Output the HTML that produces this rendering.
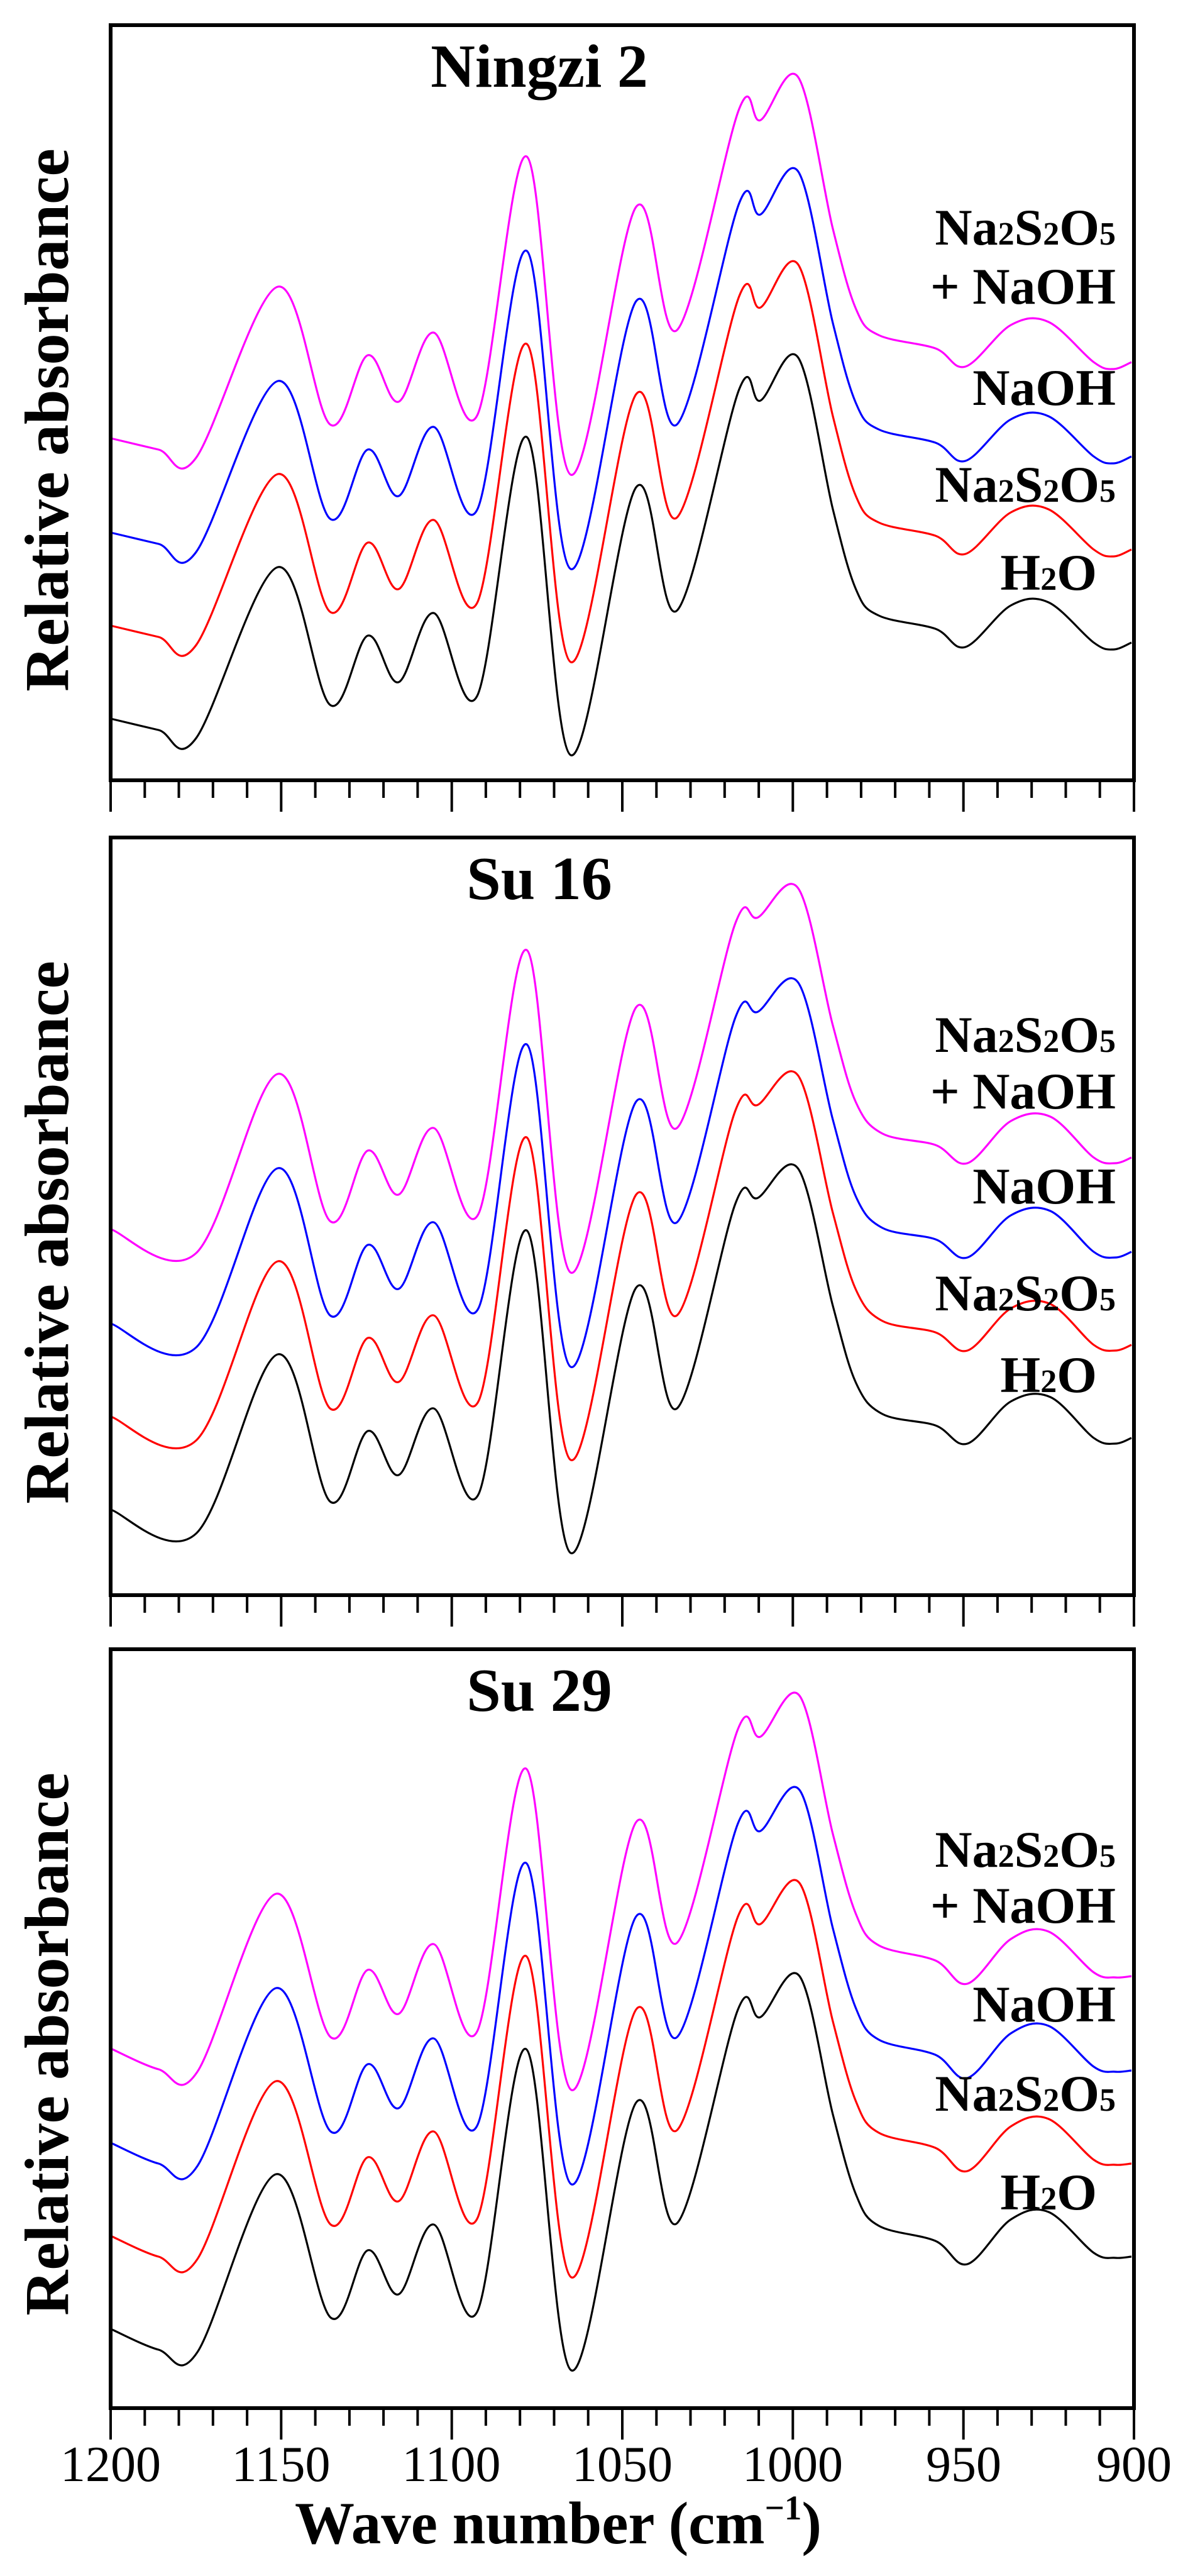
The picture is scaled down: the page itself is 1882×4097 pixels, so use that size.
<!DOCTYPE html>
<html><head><meta charset="utf-8"><style>
html,body{margin:0;padding:0;background:#fff;}
svg{display:block;}
text{font-family:"Liberation Serif",serif;}
</style></head><body>
<svg id="s" width="1882" height="4097" viewBox="0 0 1882 4097" xmlns="http://www.w3.org/2000/svg">
<g id="plots"></g>
<g font-weight="bold" fill="#000">
<text x="858" y="138" font-size="98" text-anchor="middle">Ningzi 2</text>
<text x="858" y="1430" font-size="98" text-anchor="middle">Su 16</text>
<text x="858" y="2721" font-size="98" text-anchor="middle">Su 29</text>
<text transform="translate(108,668) rotate(-90)" font-size="100" text-anchor="middle">Relative absorbance</text>
<text transform="translate(108,1960) rotate(-90)" font-size="100" text-anchor="middle">Relative absorbance</text>
<text transform="translate(108,3251) rotate(-90)" font-size="100" text-anchor="middle">Relative absorbance</text>
<g font-size="82" text-anchor="end">
<text x="1775" y="389">Na<tspan font-size="52">2</tspan>S<tspan font-size="52">2</tspan>O<tspan font-size="52">5</tspan></text>
<text x="1775" y="483">+ NaOH</text>
<text x="1775" y="644">NaOH</text>
<text x="1775" y="798">Na<tspan font-size="52">2</tspan>S<tspan font-size="52">2</tspan>O<tspan font-size="52">5</tspan></text>
<text x="1745" y="938">H<tspan font-size="52">2</tspan>O</text>

<text x="1775" y="1673">Na<tspan font-size="52">2</tspan>S<tspan font-size="52">2</tspan>O<tspan font-size="52">5</tspan></text>
<text x="1775" y="1763">+ NaOH</text>
<text x="1775" y="1914">NaOH</text>
<text x="1775" y="2084">Na<tspan font-size="52">2</tspan>S<tspan font-size="52">2</tspan>O<tspan font-size="52">5</tspan></text>
<text x="1745" y="2214">H<tspan font-size="52">2</tspan>O</text>

<text x="1775" y="2969">Na<tspan font-size="52">2</tspan>S<tspan font-size="52">2</tspan>O<tspan font-size="52">5</tspan></text>
<text x="1775" y="3058">+ NaOH</text>
<text x="1775" y="3215">NaOH</text>
<text x="1775" y="3357">Na<tspan font-size="52">2</tspan>S<tspan font-size="52">2</tspan>O<tspan font-size="52">5</tspan></text>
<text x="1745" y="3514">H<tspan font-size="52">2</tspan>O</text>
</g>
<text x="888" y="4045" font-size="95" text-anchor="middle">Wave number (cm<tspan font-size="55" dy="-38">−1</tspan><tspan dy="38">)</tspan></text>
</g>
<g font-size="80" fill="#000" text-anchor="middle">
<text x="176" y="3946">1200</text>
<text x="447" y="3946">1150</text>
<text x="718" y="3946">1100</text>
<text x="990" y="3946">1050</text>
<text x="1261" y="3946">1000</text>
<text x="1533" y="3946">950</text>
<text x="1804" y="3946">900</text>
</g>
</svg>
<script>
var P=[
{top:40,bot:1241,pts:[[176,1103],[252,1121],[312,1134],[442,862],[525,1081],[585,971],[634,1045],[690,935],[759,1067],[838,655],[908,1161],[1012,735],[1077,931],[1176,579],[1210,597],[1270,529],[1325,770],[1362,898],[1398,939],[1488,960],[1536,989],[1608,923],[1668,918],[1740,982],[1771,993],[1800,982]]},
{top:1332,bot:2537,pts:[[176,1069],[312,1107],[442,822],[525,1056],[585,944],[634,1014],[690,908],[761,1045],[838,625],[908,1138],[1012,716],[1077,908],[1170,582],[1206,573],[1270,527],[1325,745],[1362,868],[1404,917],[1488,935],[1539,964],[1608,897],[1671,890],[1740,955],[1774,964],[1800,955]]},
{top:2623,bot:3830,pts:[[176,1081],[252,1114],[314,1118],[439,835],[526,1063],[585,956],[634,1026],[690,915],[759,1054],[837,636],[909,1147],[1012,721],[1077,913],[1174,573],[1210,585],[1272,520],[1325,740],[1362,868],[1398,917],[1488,941],[1539,978],[1608,907],[1668,895],[1740,960],[1774,968],[1800,966]]}
];
var cols=["#000000","#ff0000","#0000ff","#ff00ff"],offs=[0,148,296,446];
var h="";
function cr(p){var d="M"+p[0][0]+","+p[0][1];for(var i=0;i<p.length-1;i++){var a=p[Math.max(0,i-1)],b=p[i],c=p[i+1],e=p[Math.min(p.length-1,i+2)];
var c1x=b[0]+(c[0]-a[0])/6,c1y=b[1]+(c[1]-a[1])/6,c2x=c[0]-(e[0]-b[0])/6,c2y=c[1]-(e[1]-b[1])/6;
d+=" C"+c1x.toFixed(1)+","+c1y.toFixed(1)+" "+c2x.toFixed(1)+","+c2y.toFixed(1)+" "+c[0]+","+c[1];}return d;}
P.forEach(function(pn){
for(var k=0;k<4;k++){var p=pn.pts.map(function(q){return [q[0],q[1]+pn.top-offs[k]];});
h+='<path d="'+cr(p)+'" fill="none" stroke="'+cols[k]+'" stroke-width="3.2"/>';}
h+='<rect x="176" y="'+pn.top+'" width="1628" height="'+(pn.bot-pn.top)+'" fill="none" stroke="#000" stroke-width="6"/>';
for(var w=0;w<=30;w++){var x=176+w*1628/30;var L=(w%5==0)?50:28;
h+='<line x1="'+x.toFixed(1)+'" y1="'+pn.bot+'" x2="'+x.toFixed(1)+'" y2="'+(pn.bot+L)+'" stroke="#000" stroke-width="4"/>';}
});
document.getElementById("plots").innerHTML=h;
</script>
</body></html>
